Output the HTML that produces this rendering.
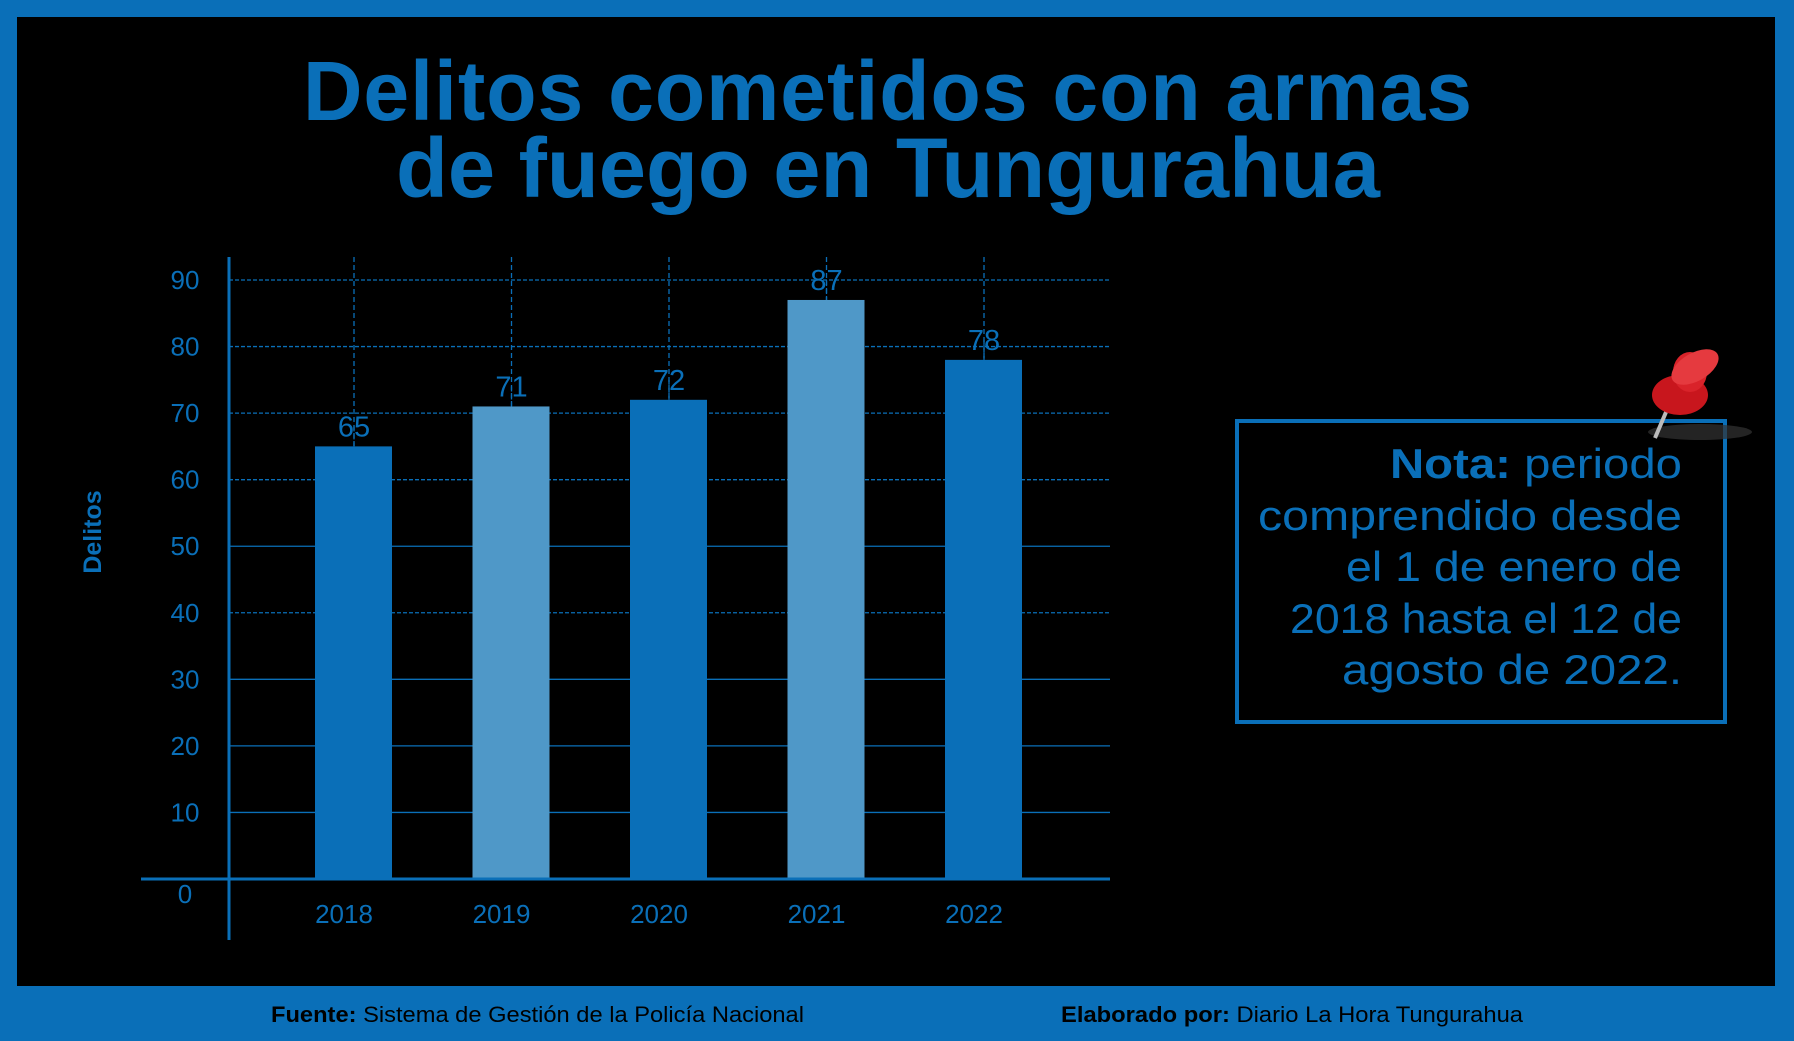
<!DOCTYPE html>
<html><head><meta charset="utf-8"><style>
html,body{margin:0;padding:0;background:#0a6fb8;}
body{width:1794px;height:1041px;position:relative;overflow:hidden;font-family:"Liberation Sans",sans-serif;}
</style></head><body>
<svg width="1794" height="1041" viewBox="0 0 1794 1041" xmlns="http://www.w3.org/2000/svg" style="position:absolute;left:0;top:0">
<rect x="0" y="0" width="1794" height="1041" fill="#0a6fb8"/>
<rect x="17" y="17" width="1758" height="969" fill="#000"/>
<text x="888" y="120" text-anchor="middle" font-size="84" font-weight="bold" fill="#0a6fb8" letter-spacing="1" textLength="1170" lengthAdjust="spacingAndGlyphs">Delitos cometidos con armas</text>
<text x="888" y="197" text-anchor="middle" font-size="84" font-weight="bold" fill="#0a6fb8" textLength="984" lengthAdjust="spacingAndGlyphs">de fuego en Tungurahua</text>
<g id="plot"></g>
<text transform="translate(101,532) rotate(-90)" text-anchor="middle" font-size="25" font-weight="bold" fill="#0a6fb8">Delitos</text>
<rect x="1237" y="421" width="488" height="301" fill="none" stroke="#0a6fb8" stroke-width="4"/>
<g font-size="42" fill="#0a6fb8" text-anchor="end">
<text x="1682" y="478" textLength="292" lengthAdjust="spacingAndGlyphs"><tspan font-weight="bold">Nota:</tspan> periodo</text>
<text x="1682" y="530" textLength="424" lengthAdjust="spacingAndGlyphs">comprendido desde</text>
<text x="1682" y="581" textLength="336" lengthAdjust="spacingAndGlyphs">el 1 de enero de</text>
<text x="1682" y="633" textLength="392" lengthAdjust="spacingAndGlyphs">2018 hasta el 12 de</text>
<text x="1682" y="684" textLength="340" lengthAdjust="spacingAndGlyphs">agosto de 2022.</text>
</g>
<g>
<ellipse cx="1700" cy="432" rx="52" ry="8" fill="#333" opacity="0.7"/>
<line x1="1672" y1="398" x2="1655" y2="438" stroke="#bbb" stroke-width="4"/>
<ellipse cx="1680" cy="395" rx="28" ry="20" fill="#c8161d"/>
<ellipse cx="1690" cy="372" rx="17" ry="20" fill="#d9232a"/>
<ellipse cx="1695" cy="367" rx="26" ry="14" fill="#e53a3f" transform="rotate(-30 1695 367)"/>
</g>
<text x="271" y="1022" font-size="22" fill="#000" textLength="533" lengthAdjust="spacingAndGlyphs"><tspan font-weight="bold">Fuente:</tspan> Sistema de Gestión de la Policía Nacional</text>
<text x="1061" y="1022" font-size="22" fill="#000" textLength="462" lengthAdjust="spacingAndGlyphs"><tspan font-weight="bold">Elaborado por:</tspan> Diario La Hora Tungurahua</text>
</svg>
<script>
const categories=["2018","2019","2020","2021","2022"];
const values=[65,71,72,87,78];
const yTicks=[0,10,20,30,40,50,60,70,80,90];
const ns="http://www.w3.org/2000/svg";
const g=document.getElementById('plot');
const y0=879,y90=280,xAxis=229,xRight=1110;
const y=v=>y0-(y0-y90)*v/90;
const x=i=>354+i*157.5;
function mk(t,a){const e=document.createElementNS(ns,t);for(const k in a)e.setAttribute(k,a[k]);g.appendChild(e);return e;}
yTicks.forEach(t=>{
  if(t>0){const l=mk('line',{x1:xAxis,x2:xRight,y1:y(t),y2:y(t),stroke:'#0a6fb8','stroke-width':1.3,'stroke-dasharray':(t>=40&&t!=50)?'4 2':'none'});
  
  }
  const tx=mk('text',{x:185,y:(t==0?y(t)+24:y(t)+9),'text-anchor':'middle','font-size':26,fill:'#0a6fb8'});
  tx.textContent=t;
  
  
});
categories.forEach((c,i)=>{
  const vl=mk('line',{x1:x(i),x2:x(i),y1:257,y2:y0,stroke:'#0a6fb8','stroke-width':1.3,'stroke-dasharray':'5 3'});
  
  
});
categories.forEach((c,i)=>{
  const b=mk('rect',{x:x(i)-39,y:y(values[i]),width:77,height:y0-y(values[i]),fill:i%2?'#4f98c8':'#0a6fb8'});
  
  
  const lv=mk('line',{x1:x(i),x2:x(i),y1:y(values[i])-20,y2:y(values[i]),stroke:'#0a6fb8','stroke-width':1.3,'stroke-dasharray':'5 3'});
  
  
  const v=mk('text',{x:x(i),y:y(values[i])-10,'text-anchor':'middle','font-size':29,fill:'#0a6fb8'});
  v.textContent=values[i];
  
  
  const xl=mk('text',{x:x(i)-10,y:923,'text-anchor':'middle','font-size':26,fill:'#0a6fb8'});
  xl.textContent=c;
  
  
});
const ya=mk('line',{x1:xAxis,x2:xAxis,y1:257,y2:940,stroke:'#0a6fb8','stroke-width':3});


const xa=mk('line',{x1:141,x2:xRight,y1:y0,y2:y0,stroke:'#0a6fb8','stroke-width':3});


</script>
</body></html>
